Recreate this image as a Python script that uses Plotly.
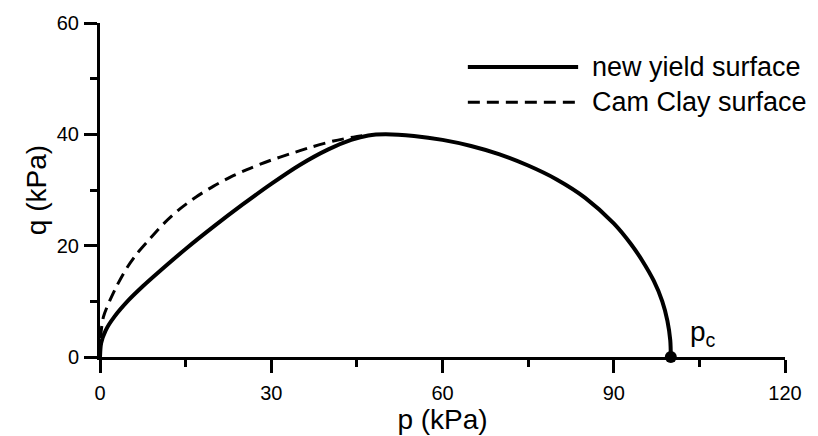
import plotly.graph_objects as go

# New yield surface (p, q in kPa)
yield_p = [0, 0.2, 1.0, 2.5, 5.0, 7.5, 10, 15, 20, 25, 30, 35, 40, 44, 47, 50,
           55, 60, 65, 70, 75, 80, 85, 90, 93, 95, 97, 98.5, 99.4, 99.9, 100]
yield_q = [0, 2.5, 4.8, 7.2, 10.2, 12.7, 15.0, 19.4, 23.5, 27.4, 31.1, 34.5, 37.3, 39.0,
           39.8, 40.0, 39.7, 39.0, 37.9, 36.4, 34.4, 31.9, 28.6, 24.0, 20.3, 17.3,
           13.7, 10.0, 6.5, 3.0, 0]

# Cam Clay surface, left branch up to where it joins the peak
cam_p = [0, 0.1, 0.6, 1.75, 3.0, 4.7, 6.5, 8.8, 11.3, 14.0, 16.9, 19.9, 23.0, 26.3, 29.8,
         33.3, 37.0, 40.9, 44.4, 47.0]
cam_q = [0, 3.5, 7.2, 10.2, 12.9, 16.0, 18.6, 21.3, 24.1, 26.6, 28.8, 30.7, 32.4, 33.9,
         35.3, 36.5, 37.7, 38.8, 39.5, 39.9]

pc_p = [100]
pc_q = [0]

x_ticks = [0, 30, 60, 90, 120]
y_ticks = [0, 20, 40, 60]

FONT = "Liberation Sans, Arial, sans-serif"

fig = go.Figure()
fig.add_trace(go.Scatter(x=cam_p, y=cam_q, mode="lines",
                         line=dict(color="black", width=3, dash="12px,7px", shape="spline",
                                   smoothing=0.8),
                         showlegend=False, cliponaxis=False))
fig.add_trace(go.Scatter(x=yield_p, y=yield_q, mode="lines",
                         line=dict(color="black", width=4, shape="spline", smoothing=0.8),
                         showlegend=False, cliponaxis=False))
fig.add_trace(go.Scatter(x=pc_p, y=pc_q, mode="markers",
                         marker=dict(color="black", size=12),
                         showlegend=False, cliponaxis=False))

fig.add_annotation(x=103, y=4.2, xref="x", yref="y", text="p<sub>c</sub>",
                   showarrow=False, xanchor="left", yanchor="middle",
                   font=dict(family=FONT, size=28, color="black"))

# Hand-drawn legend with long line samples
legend_items = [("new yield surface", "solid", 4, 0.868),
                ("Cam Clay surface", "12px,7px", 3, 0.763)]
for label, dash, width, yy in legend_items:
    fig.add_shape(type="line", xref="paper", yref="paper",
                  x0=0.537, x1=0.698, y0=yy, y1=yy,
                  line=dict(color="black", width=width, dash=dash))
    fig.add_annotation(x=0.715, y=yy, xref="paper", yref="paper", text=label,
                       showarrow=False, xanchor="left", yanchor="middle",
                       font=dict(family=FONT, size=27, color="black"))

axis_common = dict(showline=True, linecolor="black", linewidth=3, mirror=False,
                   ticks="outside", ticklen=13, tickwidth=3, tickcolor="black",
                   showgrid=False, zeroline=False,
                   tickfont=dict(family=FONT, size=20, color="black"))

fig.update_xaxes(range=[0, 120], tickvals=x_ticks, ticktext=[str(v) for v in x_ticks],
                 ticklabelstandoff=3,
                 minor=dict(ticks="outside", ticklen=7, tickwidth=3, tickcolor="black",
                            tickvals=[15, 45, 75, 105]),
                 title=dict(text="p (kPa)", font=dict(family=FONT, size=28, color="black"),
                            standoff=0),
                 **axis_common)
fig.update_yaxes(range=[0, 60], tickvals=y_ticks, ticktext=[str(v) for v in y_ticks],
                 ticklabelstandoff=1,
                 minor=dict(ticks="outside", ticklen=7, tickwidth=3, tickcolor="black",
                            tickvals=[10, 30, 50]),
                 title=dict(text="q (kPa)", font=dict(family=FONT, size=28, color="black"),
                            standoff=2),
                 **axis_common)

fig.update_layout(width=818, height=436, margin=dict(l=100, r=33, t=16, b=78),
                  plot_bgcolor="white", paper_bgcolor="white",
                  font=dict(family=FONT, color="black"))

fig.write_html("out.html")
